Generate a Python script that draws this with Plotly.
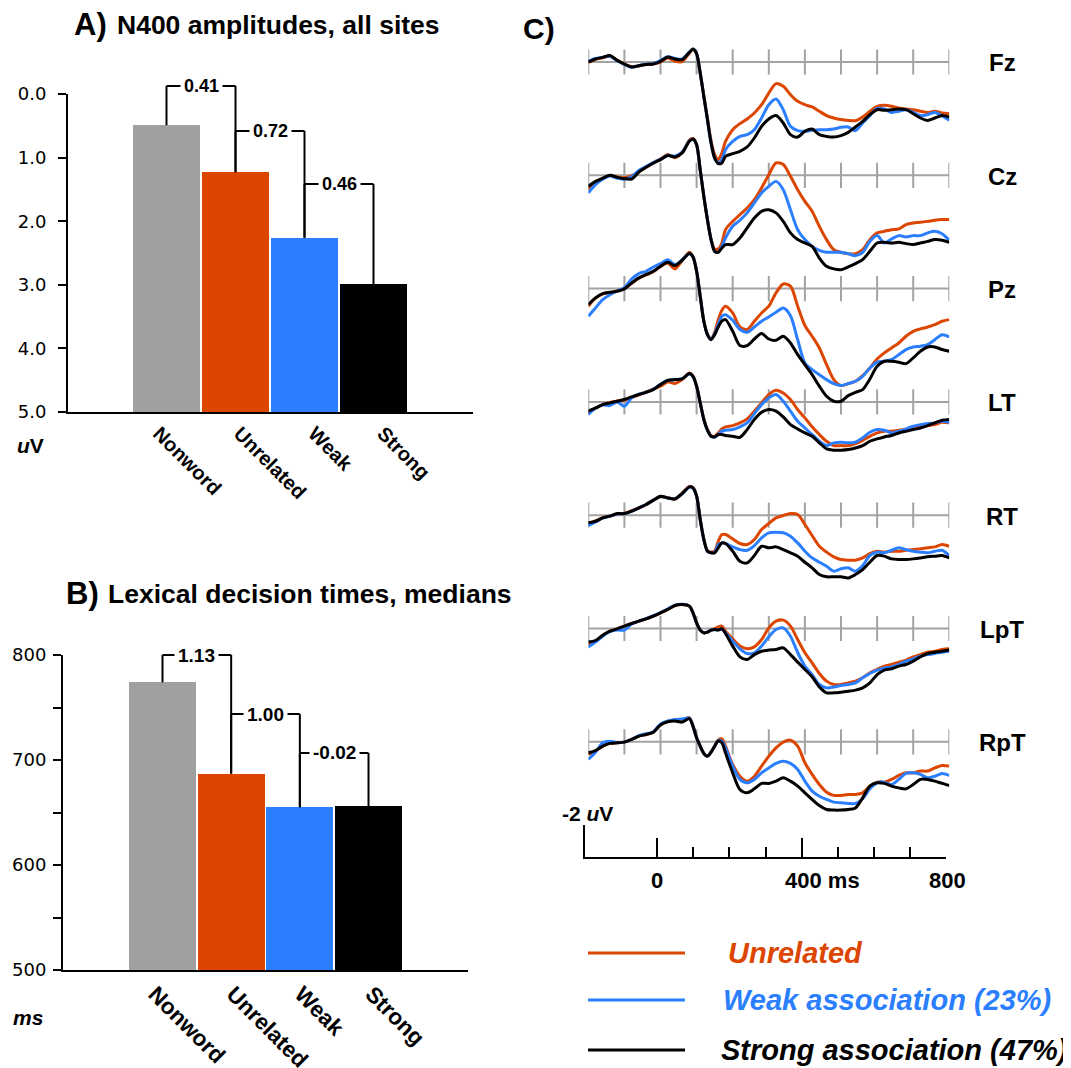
import plotly.graph_objects as go

W, H = 1071, 1068

# ---------------- data ----------------
categories = ["Nonword", "Unrelated", "Weak", "Strong"]
n400_amplitude = [0.49, 1.23, 2.26, 2.99]          # uV (axis 0..5, reversed)
n400_effects = ["0.41", "0.72", "0.46"]
n400_ticks = [0.0, 1.0, 2.0, 3.0, 4.0, 5.0]

ldt_median = [774, 687, 655, 656]                    # ms
ldt_effects = ["1.13", "1.00", "-0.02"]
ldt_ticks = [500, 550, 600, 650, 700, 750, 800]
ldt_tick_labels = ["500", "", "600", "", "700", "", "800"]

channels = ["Fz", "Cz", "Pz", "LT", "RT", "LpT", "RpT"]
conditions = ["Unrelated", "Weak association (23%)", "Strong association (47%)"]

erp_times = [-200, -180, -160, -140, -120, -100, -80, -60, -40, -20, 0, 20, 40, 60, 80,
             90, 100, 110, 120, 130, 140, 150, 160, 170, 180,
             200, 220, 240, 260, 280, 300, 320, 340, 360, 380, 400, 420, 440, 460, 480,
             500, 520, 540, 560, 580, 600, 620, 640, 660, 680, 700, 720, 740, 760, 780, 800]

# ERP amplitudes in uV (negative plotted up)
fz_unrel = [0.02, -0.17, -0.27, -0.38, -0.12, 0.12, 0.30, 0.25, 0.16, 0.12, 0.00, -0.25, -0.05, -0.02, -0.55,
            -0.80, -0.50, 0.70, 2.10, 3.50, 4.90, 5.79, 6.10, 5.69, 4.96, 4.23, 3.85, 3.56, 3.19, 2.67,
            1.94, 1.35, 1.52, 2.04, 2.46, 2.67, 2.81, 3.08, 3.35, 3.50, 3.60, 3.65, 3.67, 3.44, 3.08,
            2.77, 2.71, 2.77, 2.88, 2.94, 2.98, 3.08, 3.15, 3.08, 3.19, 3.23]
fz_weak = [-0.05, -0.22, -0.30, -0.36, -0.08, 0.15, 0.33, 0.22, 0.14, 0.10, -0.08, -0.33, -0.22, -0.18, -0.62,
           -0.82, -0.52, 0.69, 2.15, 3.60, 5.06, 6.00, 6.31, 6.10, 5.48, 4.96, 4.65, 4.54, 4.23, 3.50,
           2.67, 2.31, 2.98, 4.02, 4.29, 4.33, 4.27, 4.23, 4.23, 4.19, 4.08, 4.06, 4.29, 3.81, 3.35,
           2.90, 2.94, 3.15, 3.08, 2.98, 3.15, 3.35, 3.29, 3.15, 3.35, 3.65]
fz_strong = [0.00, -0.19, -0.29, -0.40, -0.10, 0.13, 0.31, 0.23, 0.15, 0.13, -0.04, -0.31, -0.19, -0.15, -0.60,
             -0.81, -0.52, 0.69, 2.15, 3.60, 5.06, 6.00, 6.35, 6.31, 5.90, 5.73, 5.58, 5.31, 4.75, 4.02,
             3.56, 3.35, 3.81, 4.54, 4.69, 4.33, 4.19, 4.54, 4.65, 4.69, 4.60, 4.40, 4.06, 3.71, 3.29,
             2.98, 3.02, 2.98, 2.94, 2.98, 3.23, 3.50, 3.65, 3.50, 3.35, 3.44]

cz_unrel = [0.90, 0.42, 0.20, 0.02, 0.10, 0.15, 0.02, -0.22, -0.50, -0.80, -1.02, -1.30, -1.10, -1.42, -2.20,
            -2.30, -1.90, -0.30, 1.35, 2.80, 4.00, 4.60, 4.60, 4.23, 3.40, 2.88, 2.46, 2.04, 1.52, 0.79,
            -0.04, -0.77, -0.67, 0.06, 0.90, 1.63, 2.25, 3.19, 4.02, 4.65, 4.81, 4.90, 4.90, 4.65, 4.02,
            3.60, 3.50, 3.40, 3.35, 3.08, 2.98, 2.94, 2.88, 2.81, 2.77, 2.77]
cz_weak = [1.10, 0.58, 0.25, 0.05, 0.18, 0.25, 0.10, -0.30, -0.55, -0.80, -1.00, -1.25, -1.20, -1.45, -2.15,
           -2.25, -1.90, -0.35, 1.30, 2.75, 4.00, 4.75, 4.81, 4.44, 3.92, 3.19, 2.81, 2.35, 1.73, 1.10,
           0.69, 0.38, 0.90, 2.15, 3.40, 4.02, 4.44, 4.69, 4.81, 4.81, 4.81, 4.90, 5.02, 4.81, 4.13,
           3.77, 4.23, 3.98, 3.77, 3.85, 3.77, 3.77, 3.60, 3.50, 3.65, 4.06]
cz_strong = [0.69, 0.38, 0.17, 0.00, 0.13, 0.21, 0.23, -0.20, -0.50, -0.75, -0.98, -1.23, -1.15, -1.40, -2.13,
             -2.27, -1.92, -0.35, 1.31, 2.77, 4.02, 4.75, 4.81, 4.54, 4.33, 4.33, 3.92, 3.29, 2.67, 2.25,
             2.15, 2.35, 2.88, 3.60, 4.02, 4.23, 4.44, 5.17, 5.69, 5.85, 5.90, 5.73, 5.52, 5.27, 4.75,
             4.23, 4.19, 4.23, 4.19, 4.27, 4.33, 4.23, 4.13, 4.02, 4.06, 4.19]

pz_unrel = [1.10, 0.60, 0.33, 0.25, 0.15, 0.00, -0.33, -0.65, -0.85, -1.05, -1.38, -1.60, -1.23, -1.75, -2.27,
            -2.00, -1.10, 0.45, 2.00, 2.85, 3.15, 2.73, 1.94, 1.35, 1.10, 1.52, 2.40, 2.56, 2.04, 1.52,
            1.10, 0.27, -0.29, -0.15, 1.10, 2.31, 2.98, 3.71, 4.75, 5.69, 6.06, 5.94, 5.79, 5.44, 4.96,
            4.40, 4.02, 3.71, 3.40, 2.98, 2.67, 2.52, 2.40, 2.25, 2.04, 1.94]
pz_weak = [1.73, 1.21, 0.69, 0.38, 0.15, -0.05, -0.60, -0.94, -1.08, -1.35, -1.56, -1.81, -1.50, -1.80, -2.20,
           -2.00, -1.10, 0.48, 2.04, 2.88, 3.19, 2.81, 2.25, 1.73, 1.63, 1.98, 2.56, 2.73, 2.40, 2.04,
           1.77, 1.48, 1.21, 1.69, 3.20, 4.65, 5.06, 5.38, 5.69, 5.94, 6.06, 5.94, 5.79, 5.48, 4.96,
           4.60, 4.54, 4.44, 4.13, 3.81, 3.65, 3.60, 3.50, 3.19, 2.88, 3.02]
pz_strong = [1.00, 0.58, 0.31, 0.23, 0.17, 0.02, -0.35, -0.67, -0.88, -1.08, -1.40, -1.65, -1.44, -1.77, -2.19,
             -1.98, -1.08, 0.48, 2.04, 2.88, 3.19, 2.88, 2.40, 2.04, 1.94, 2.67, 3.56, 3.56, 3.15, 2.81,
             3.15, 3.23, 2.98, 3.40, 4.13, 4.75, 5.38, 6.10, 6.73, 7.04, 7.04, 6.69, 6.48, 6.31, 5.65,
             4.85, 4.54, 4.54, 4.60, 4.69, 4.33, 3.92, 3.65, 3.65, 3.81, 3.92]

lt_unrel = [0.69, 0.40, 0.17, 0.04, -0.06, -0.12, -0.28, -0.44, -0.62, -0.80, -0.98, -1.25, -1.15, -1.40, -1.80,
            -1.62, -1.00, 0.04, 1.05, 1.72, 2.10, 2.15, 1.94, 1.69, 1.56, 1.48, 1.31, 1.06, 0.58, 0.06,
            -0.46, -0.73, -0.56, -0.15, 0.48, 1.00, 1.56, 2.04, 2.46, 2.73, 2.73, 2.73, 2.60, 2.40, 2.15,
            1.94, 1.83, 1.83, 1.77, 1.73, 1.69, 1.56, 1.48, 1.42, 1.27, 1.31]
lt_weak = [0.79, 0.40, 0.20, 0.23, 0.00, 0.27, -0.25, -0.48, -0.60, -0.80, -1.10, -1.35, -1.38, -1.45, -1.75,
           -1.58, -0.98, 0.06, 1.10, 1.77, 2.15, 2.19, 2.04, 1.83, 1.77, 1.73, 1.56, 1.31, 0.73, 0.17,
           -0.25, -0.46, -0.04, 0.58, 1.21, 1.63, 2.04, 2.46, 2.73, 2.56, 2.52, 2.56, 2.52, 2.25, 1.90,
           1.73, 1.77, 1.94, 1.83, 1.69, 1.52, 1.42, 1.35, 1.31, 1.21, 1.27]
lt_strong = [0.58, 0.38, 0.17, 0.06, -0.04, -0.15, -0.31, -0.46, -0.60, -0.77, -1.08, -1.35, -1.40, -1.44, -1.77,
             -1.60, -0.98, 0.06, 1.10, 1.77, 2.15, 2.19, 2.04, 2.04, 2.10, 2.15, 2.21, 1.73, 1.10, 0.65,
             0.48, 0.58, 0.94, 1.42, 1.69, 1.94, 2.15, 2.56, 2.94, 3.02, 3.02, 2.98, 2.88, 2.73, 2.46,
             2.31, 2.19, 2.10, 1.94, 1.83, 1.73, 1.63, 1.48, 1.31, 1.15, 1.10]

rt_unrel = [0.50, 0.36, 0.15, 0.04, -0.08, -0.12, -0.28, -0.44, -0.65, -0.92, -1.15, -1.10, -1.00, -1.38, -1.80,
            -1.72, -1.20, 0.25, 1.48, 2.20, 2.30, 2.25, 1.63, 1.21, 1.21, 1.48, 1.77, 1.83, 1.52, 0.90,
            0.52, 0.17, 0.02, -0.10, -0.04, 0.58, 1.27, 1.94, 2.31, 2.60, 2.77, 2.81, 2.81, 2.67, 2.40,
            2.25, 2.31, 2.25, 2.25, 2.19, 2.15, 2.10, 2.04, 1.98, 1.83, 1.94]
rt_weak = [0.65, 0.42, 0.18, 0.06, -0.08, -0.10, -0.24, -0.46, -0.67, -0.94, -1.17, -1.08, -1.02, -1.35, -1.75,
           -1.70, -1.18, 0.27, 1.52, 2.25, 2.35, 2.33, 1.83, 1.73, 1.77, 1.98, 2.15, 2.19, 1.90, 1.42,
           1.10, 1.06, 1.10, 1.31, 1.73, 2.25, 2.67, 2.94, 3.19, 3.50, 3.35, 3.29, 3.50, 3.15, 2.52,
           2.31, 2.35, 2.19, 2.04, 2.15, 2.25, 2.31, 2.35, 2.25, 2.19, 2.52]
rt_strong = [0.48, 0.38, 0.17, 0.06, -0.10, -0.10, -0.25, -0.46, -0.67, -0.94, -1.19, -1.08, -1.02, -1.35, -1.77,
             -1.71, -1.19, 0.27, 1.52, 2.25, 2.35, 2.35, 2.04, 1.73, 1.77, 2.25, 2.88, 2.98, 2.52, 1.94,
             2.04, 1.98, 2.15, 2.35, 2.56, 2.94, 3.29, 3.71, 3.85, 3.85, 3.85, 3.92, 3.71, 3.40, 2.94,
             2.52, 2.56, 2.73, 2.77, 2.77, 2.73, 2.67, 2.60, 2.56, 2.52, 2.67]

lpt_unrel = [1.00, 0.79, 0.44, 0.17, 0.02, -0.15, -0.31, -0.46, -0.60, -0.77, -0.98, -1.19, -1.44, -1.50, -1.40,
             -0.98, -0.35, 0.10, 0.27, 0.23, 0.10, 0.00, -0.10, -0.15, 0.17, 0.65, 1.10, 1.27, 1.15, 0.69,
             -0.04, -0.46, -0.52, -0.15, 0.69, 1.52, 2.15, 2.81, 3.29, 3.50, 3.50, 3.40, 3.29, 3.08, 2.77,
             2.56, 2.35, 2.25, 2.10, 1.98, 1.77, 1.63, 1.48, 1.42, 1.31, 1.27]
lpt_weak = [1.15, 0.85, 0.48, 0.20, 0.10, 0.10, -0.28, -0.46, -0.62, -0.80, -1.00, -1.22, -1.46, -1.52, -1.40,
            -0.98, -0.35, 0.10, 0.27, 0.23, 0.10, 0.06, 0.10, 0.02, 0.27, 0.79, 1.27, 1.56, 1.52, 1.10,
            0.52, 0.06, -0.04, 0.48, 1.50, 2.35, 2.88, 3.50, 3.71, 3.65, 3.56, 3.50, 3.40, 3.08, 2.81,
            2.60, 2.46, 2.40, 2.25, 2.04, 1.90, 1.73, 1.63, 1.56, 1.48, 1.42]
lpt_strong = [0.85, 0.75, 0.42, 0.17, 0.02, -0.15, -0.31, -0.46, -0.60, -0.77, -0.98, -1.19, -1.44, -1.50, -1.40,
              -0.98, -0.35, 0.10, 0.27, 0.23, 0.10, 0.06, 0.10, 0.02, 0.31, 1.10, 1.77, 1.94, 1.63, 1.42,
              1.35, 1.31, 1.21, 1.63, 2.10, 2.56, 3.02, 3.65, 4.02, 4.02, 3.98, 3.92, 3.85, 3.71, 3.40,
              2.88, 2.60, 2.52, 2.35, 2.25, 2.04, 1.77, 1.56, 1.48, 1.42, 1.35]

rpt_unrel = [0.79, 0.58, 0.27, 0.10, 0.06, 0.02, -0.15, -0.35, -0.46, -0.60, -1.08, -1.29, -1.35, -1.40, -1.50,
             -0.98, -0.25, 0.27, 0.73, 0.90, 0.65, 0.27, -0.12, -0.19, 0.27, 1.42, 2.15, 2.46, 2.15, 1.52,
             0.90, 0.38, 0.02, -0.10, 0.27, 1.31, 2.04, 2.67, 3.15, 3.35, 3.35, 3.29, 3.29, 3.19, 2.77,
             2.52, 2.52, 2.35, 2.10, 1.94, 1.94, 1.83, 1.83, 1.63, 1.48, 1.52]
rpt_weak = [1.10, 0.65, 0.06, -0.04, 0.06, 0.02, -0.15, -0.38, -0.50, -0.62, -1.12, -1.30, -1.40, -1.42, -1.48,
            -0.98, -0.25, 0.27, 0.73, 0.90, 0.65, 0.27, -0.08, -0.04, 0.38, 1.52, 2.35, 2.56, 2.35, 1.94,
            1.63, 1.35, 1.21, 1.35, 1.73, 2.46, 3.08, 3.40, 3.60, 3.77, 3.81, 3.85, 3.85, 3.56, 2.94,
            2.56, 2.52, 2.67, 2.35, 1.98, 1.94, 2.04, 2.25, 2.15, 1.98, 2.10]
rpt_strong = [0.69, 0.55, 0.27, 0.10, 0.06, 0.02, -0.15, -0.35, -0.46, -0.60, -1.05, -1.25, -1.30, -1.23, -1.45,
              -0.98, -0.25, 0.27, 0.73, 0.90, 0.65, 0.27, -0.05, 0.06, 0.69, 1.94, 2.98, 3.19, 2.94, 2.60,
              2.60, 2.46, 2.25, 2.46, 2.77, 3.19, 3.60, 3.98, 4.23, 4.27, 4.27, 4.23, 4.13, 3.50, 2.77,
              2.56, 2.60, 2.77, 2.88, 2.94, 2.67, 2.35, 2.35, 2.46, 2.60, 2.73]

erp_unrelated = [fz_unrel, cz_unrel, pz_unrel, lt_unrel, rt_unrel, lpt_unrel, rpt_unrel]
erp_weak = [fz_weak, cz_weak, pz_weak, lt_weak, rt_weak, lpt_weak, rpt_weak]
erp_strong = [fz_strong, cz_strong, pz_strong, lt_strong, rt_strong, lpt_strong, rpt_strong]

# ---------------- style / layout constants ----------------
COL_GRAY = "#a0a0a0"
COL_RED = "#dc4600"
COL_BLUE = "#2b7fff"
COL_BLACK = "#000000"
bar_colors = [COL_GRAY, COL_RED, COL_BLUE, COL_BLACK]
cond_colors = [COL_RED, COL_BLUE, COL_BLACK]
GRID_GRAY = "#a3a3a3"
BOLD = "Liberation Sans"
TICKFONT = "DejaVu Sans"

PAGE_OFF = 8  # the page body margin shifts the figure by 8 px


def fx(px):
    return (px - PAGE_OFF) / W


def fy(py):
    return 1 - (py - PAGE_OFF) / H


# Panel A geometry (pixels)
A_L, A_R, A_T, A_B = 68, 473, 94, 412
A_PITCH, A_C0 = 69.0, 166.5
# Panel B geometry
B_L, B_R, B_T, B_B = 63, 468, 655, 970
B_PITCH, B_C0 = 68.67, 162.5
# Panel C geometry
C_L, C_R = 588.3, 949.3
C_TOP, C_BOT = 20, 857
FZ_BASE = 62
CH_STEP_PX = 113.3
PX_PER_UV = 16.0
ch_offsets = [k * CH_STEP_PX / PX_PER_UV for k in range(len(channels))]

a_lo, a_hi = n400_ticks[0], n400_ticks[-1]
b_lo, b_hi = ldt_ticks[0], ldt_ticks[-1]


def a_paper(v):
    return fy(A_T + (v - a_lo) / (a_hi - a_lo) * (A_B - A_T))


def b_paper(v):
    return fy(B_B - (v - b_lo) / (b_hi - b_lo) * (B_B - B_T))


fig = go.Figure()
shapes = []
annotations = []

# ---------- Panel A bars ----------
xs = list(range(len(categories)))
fig.add_trace(go.Bar(x=xs, y=[v - a_hi for v in n400_amplitude], base=a_hi, width=0.97,
                     marker=dict(color=bar_colors, line=dict(width=0)), xaxis="x", yaxis="y",
                     hoverinfo="skip"))
# ---------- Panel B bars ----------
fig.add_trace(go.Bar(x=xs, y=[v - b_lo for v in ldt_median], base=b_lo, width=0.976,
                     marker=dict(color=bar_colors, line=dict(width=0)), xaxis="x2", yaxis="y2",
                     hoverinfo="skip"))


def add_brackets(values, labels, levels, xref, conv, fsize):
    for i, lab in enumerate(labels):
        lv = conv(levels[i])
        segs = [(i, lv, i, conv(values[i])), (i + 1, lv, i + 1, conv(values[i + 1])), (i, lv, i + 1, lv)]
        for (x0, y0, x1, y1) in segs:
            shapes.append(dict(type="line", xref=xref, yref="paper", x0=x0, y0=y0, x1=x1, y1=y1,
                               line=dict(color="black", width=2)))
        annotations.append(dict(x=i + 0.5, y=lv, xref=xref, yref="paper", text=lab, showarrow=False,
                                bgcolor="white", borderpad=3, yanchor="middle",
                                font=dict(family=BOLD, size=fsize, color="black", weight="bold")))


add_brackets(n400_amplitude, n400_effects, [-0.126, 0.582, 1.415], "x", a_paper, 18)
add_brackets(ldt_median, ldt_effects, [800, 743.8, 706.7], "x2", b_paper, 19)

# ---------- Panel C: channel baselines ----------
grid_times = list(range(-200, 801, 100))
for k, ch in enumerate(channels):
    off = ch_offsets[k]
    fig.add_trace(go.Scatter(x=[grid_times[0], grid_times[-1]], y=[off, off], mode="lines",
                             line=dict(color=GRID_GRAY, width=2), xaxis="x3", yaxis="y3",
                             hoverinfo="skip"))
    fig.add_trace(go.Scatter(x=grid_times, y=[off] * len(grid_times), mode="markers",
                             marker=dict(symbol="line-ns", size=18,
                                         line=dict(color=GRID_GRAY, width=2)),
                             xaxis="x3", yaxis="y3", hoverinfo="skip"))

for k, ch in enumerate(channels):
    off = ch_offsets[k]
    for series, col in zip([erp_unrelated[k], erp_weak[k], erp_strong[k]], cond_colors):
        fig.add_trace(go.Scatter(x=erp_times, y=[v + off for v in series], mode="lines",
                                 line=dict(color=col, width=3, shape="spline", smoothing=0.8),
                                 xaxis="x3", yaxis="y3", hoverinfo="skip"))
    annotations.append(dict(x=fx(1002), y=fy(FZ_BASE + CH_STEP_PX * k + 1), xref="paper", yref="paper",
                            text=ch, showarrow=False, xanchor="center", yanchor="middle",
                            font=dict(family=BOLD, size=24, color="black", weight="bold")))

# invisible trace to activate the scale-bar axes
fig.add_trace(go.Scatter(x=[-200], y=[0], mode="markers", marker=dict(opacity=0),
                         xaxis="x4", yaxis="y4", hoverinfo="skip"))


# ---------- titles & labels ----------
def txt(x, y, text, size, xanchor="left", yanchor="middle", color="black", style="normal", family=BOLD):
    annotations.append(dict(x=fx(x), y=fy(y), xref="paper", yref="paper", text=text, showarrow=False,
                            xanchor=xanchor, yanchor=yanchor,
                            font=dict(family=family, size=size, color=color, weight="bold", style=style)))


txt(72, 24, "A)", 31)
txt(115, 25, "N400 amplitudes, all sites", 26.5)
txt(64, 593, "B)", 31)
txt(106, 594, "Lexical decision times, medians", 26.5)
txt(521, 29, "C)", 30)
txt(30, 445, "<i>u</i>V", 21, xanchor="center")
txt(28, 1017, "ms", 21, xanchor="center", style="italic")

# scale bar labels
txt(560, 813, "-2 <i>u</i>V", 21)
txt(657, 880, "0", 22, xanchor="center")
txt(801 - 18.5, 880, "400 ms", 22)
txt(947, 880, "800", 22, xanchor="center")

# legend
leg_y = [953, 1000, 1050]
leg_x = [726, 721, 719]
for name, col, y, x in zip(conditions, cond_colors, leg_y, leg_x):
    shapes.append(dict(type="line", xref="paper", yref="paper", x0=fx(588), x1=fx(685), y0=fy(y), y1=fy(y),
                       line=dict(color=col, width=3)))
    txt(x, y, name, 29, color=col, style="italic")

axis_common = dict(showgrid=False, zeroline=False, fixedrange=True, automargin=False)
# small per-label offsets of the rotated category labels relative to the bar centres
LABEL_SHIFT_A = [-0.11, 0.06, 0.14, 0.14]
LABEL_SHIFT_B = [-0.11, 0.03, 0.02, 0.05]

fig.update_layout(
    width=W, height=H, margin=dict(l=0, r=0, t=0, b=0, pad=0, autoexpand=False),
    paper_bgcolor="white", plot_bgcolor="white", showlegend=False, bargap=0,
    xaxis=dict(domain=[fx(A_L), fx(A_R)], range=[(A_L - A_C0) / A_PITCH, (A_R - A_C0) / A_PITCH],
               anchor="y", showline=True, linecolor="black", linewidth=2, ticks="",
               tickvals=[i + s for i, s in zip(xs, LABEL_SHIFT_A)], ticktext=categories, tickangle=45,
               tickfont=dict(family=BOLD, size=20, color="black", weight="bold"), **axis_common),
    yaxis=dict(domain=[fy(A_B), fy(A_T)], range=[a_hi, a_lo], anchor="x",
               showline=True, linecolor="black", linewidth=2, ticks="outside", ticklen=8, tickwidth=2,
               tickcolor="black", tickvals=n400_ticks, ticktext=[f"{t:.1f}" for t in n400_ticks],
               ticklabelstandoff=8,
               tickfont=dict(family=TICKFONT, size=18, color="black"), **axis_common),
    xaxis2=dict(domain=[fx(B_L), fx(B_R)], range=[(B_L - B_C0) / B_PITCH, (B_R - B_C0) / B_PITCH],
                anchor="y2", showline=True, linecolor="black", linewidth=2, ticks="",
                tickvals=[i + s for i, s in zip(xs, LABEL_SHIFT_B)], ticktext=categories, tickangle=45,
                tickfont=dict(family=BOLD, size=22.5, color="black", weight="bold"), **axis_common),
    yaxis2=dict(domain=[fy(B_B), fy(B_T)], range=[b_lo, b_hi], anchor="x2",
                showline=True, linecolor="black", linewidth=2, ticks="outside", ticklen=8, tickwidth=2,
                tickcolor="black", tickvals=ldt_ticks, ticktext=ldt_tick_labels, ticklabelstandoff=3,
                tickfont=dict(family=TICKFONT, size=18, color="black"), **axis_common),
    xaxis3=dict(domain=[fx(C_L), fx(C_R)], range=[-200, 800], anchor="y3", visible=False, **axis_common),
    yaxis3=dict(domain=[fy(C_BOT), fy(C_TOP)],
                range=[(C_BOT - FZ_BASE) / PX_PER_UV, -(FZ_BASE - C_TOP) / PX_PER_UV],
                anchor="x3", visible=False, **axis_common),
    xaxis4=dict(domain=[fx(585), fx(946)], range=[-200, 800], anchor="y4", showline=True,
                linecolor="black", linewidth=2, ticks="inside", ticklen=19, tickwidth=2, tickcolor="black",
                tickvals=[0, 400, 800], showticklabels=False,
                minor=dict(ticks="inside", ticklen=10, tickwidth=2, tickcolor="black",
                           tickmode="array", tickvals=[100, 200, 300, 500, 600, 700]),
                **axis_common),
    yaxis4=dict(domain=[fy(C_BOT), fy(C_BOT - 2 * PX_PER_UV)], range=[0, -2], anchor="x4",
                showline=True, linecolor="black", linewidth=2, ticks="inside", ticklen=10, tickwidth=2,
                tickcolor="black", tickvals=[-2], showticklabels=False, **axis_common),
    shapes=shapes, annotations=annotations,
)

fig.write_html("out.html")
